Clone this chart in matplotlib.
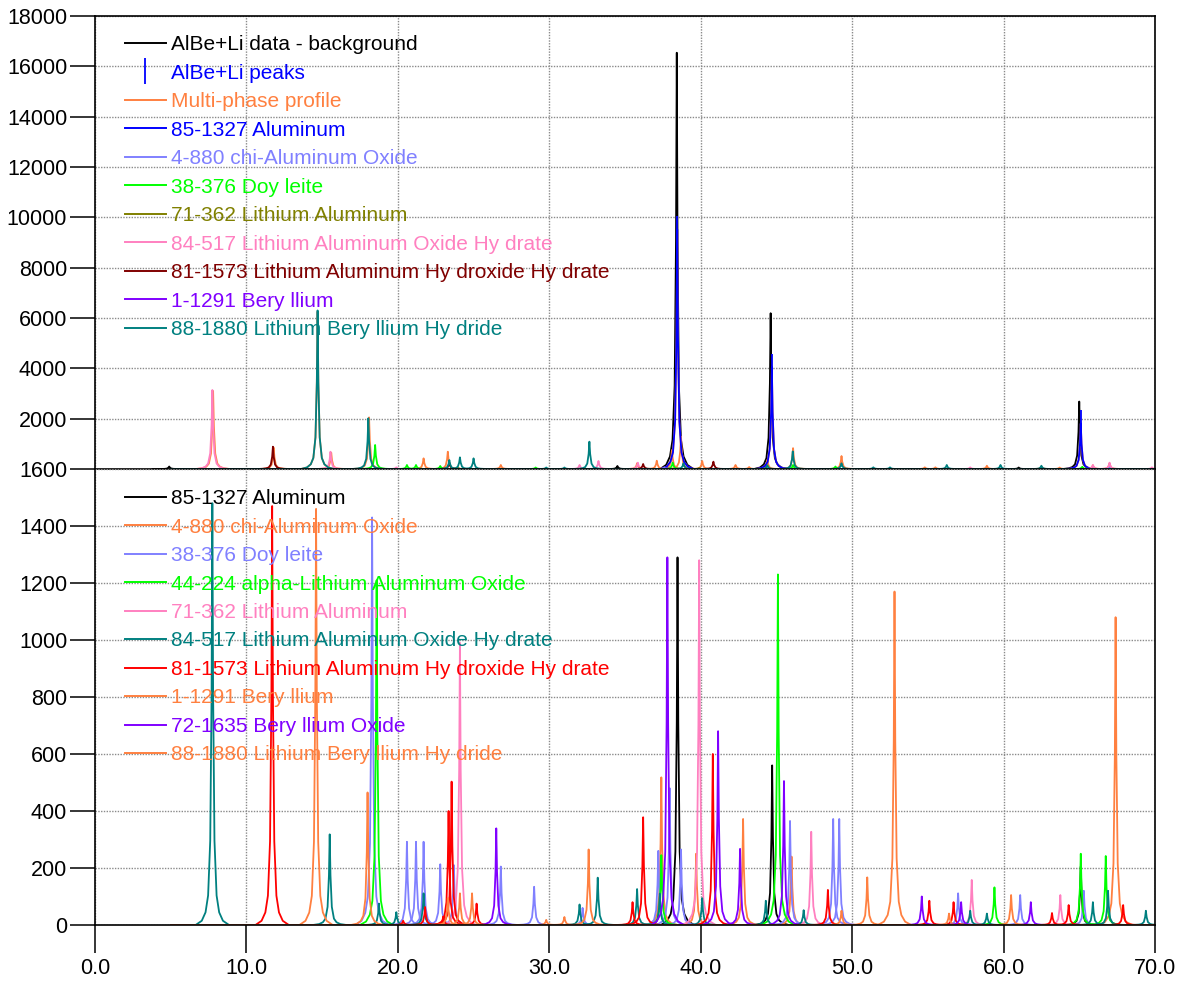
import numpy as np
import matplotlib.pyplot as plt
from matplotlib.ticker import FormatStrFormatter, MultipleLocator

plt.rcParams['font.family'] = ['Liberation Sans', 'DejaVu Sans']

# shape used to draw each reflection: offset (deg 2theta) and fraction of peak height
shape_dx = np.array([-1.1, -0.7, -0.45, -0.28, -0.14, -0.05, 0.0, 0.05, 0.14, 0.28, 0.45, 0.7, 1.1])
shape_rel = np.array([0, 0.01, 0.03, 0.07, 0.2, 0.55, 1, 0.55, 0.2, 0.07, 0.03, 0.01, 0])

# ---------------- top panel: measured pattern and fitted phases ----------------
data_pos = [4.9, 34.5, 38.42, 44.62, 61.0, 65.0]
data_int = [100, 120, 16540, 6190, 60, 2680]

peaks_pos = [38.45, 44.7, 65.1]
peaks_int = [9520, 4060, 1820]

multi_pos = [7.8, 11.8, 14.7, 15.6, 18.1, 21.7, 23.3, 26.8, 35.8, 37.1, 38.1, 38.45, 38.7, 40.1,
             42.3, 43.2, 44.4, 44.7, 46.1, 49.3, 54.8, 55.5, 58.9, 62.5, 63.7, 65.1, 65.9, 67.0]
multi_int = [3100, 850, 6250, 650, 2050, 424, 688, 160, 230, 330, 755, 9450, 1285, 318,
             160, 80, 357, 4000, 830, 516, 67, 67, 130, 100, 60, 1800, 150, 230]

al_top_pos = [38.45, 44.7, 65.1]
al_top_int = [9520, 4060, 1820]

chi_top_pos = [37.6, 45.9, 67.0]
chi_top_int = [60, 80, 60]

doy_top_pos = [18.5, 20.6, 21.2, 22.8, 29.1, 38.15, 46.1, 48.9, 65.2]
doy_top_int = [954, 160, 160, 120, 60, 252, 160, 100, 90]

lial_top_pos = [24.0, 39.9]
lial_top_int = [40, 40]

laoh_top_pos = [7.75, 15.55, 19.9, 32.0, 33.25, 35.85, 57.8, 65.9, 67.0, 69.8]
laoh_top_int = [3140, 688, 67, 160, 318, 252, 67, 160, 252, 67]

lahh_top_pos = [11.75, 23.4, 36.2, 40.84]
lahh_top_int = [887, 250, 199, 292]

be_top_pos = [37.8, 45.5]
be_top_int = [30, 30]

lbh_top_pos = [14.7, 18.05, 23.4, 24.1, 25.0, 29.8, 31.0, 32.65, 38.86, 44.4, 46.08, 49.3,
               51.4, 52.5, 56.25, 59.8, 62.5]
lbh_top_int = [6300, 2014, 357, 464, 424, 60, 60, 1086, 225, 150, 700, 225,
               67, 67, 160, 160, 130]

# ---------------- bottom panel: reference patterns ----------------
al_pos = [38.47, 44.72, 65.1]
al_int = [1290, 560, 205]

chi_pos = [37.4, 39.7, 42.8, 46.0, 67.4]
chi_int = [518, 250, 372, 240, 1080]

doy_pos = [18.3, 20.6, 21.2, 21.7, 22.8, 23.7, 26.8, 29.0, 32.2, 37.2, 37.95, 38.7, 45.9,
           48.75, 49.15, 57.0, 61.1, 65.3]
doy_int = [1430, 292, 292, 292, 213, 210, 205, 134, 60, 260, 480, 265, 365,
           372, 372, 111, 105, 120]

alo_pos = [18.6, 37.4, 45.1, 59.4, 65.1, 66.75]
alo_int = [1210, 245, 1230, 132, 250, 242]

lial_pos = [24.1, 39.9, 47.3, 57.9, 63.75]
lial_int = [990, 1280, 327, 158, 105]

laoh_pos = [7.75, 15.5, 18.75, 19.9, 21.7, 32.0, 33.2, 35.8, 37.3, 40.1, 44.3, 46.8,
            57.8, 58.9, 65.9, 66.9, 69.4]
laoh_int = [1480, 318, 75, 45, 111, 72, 166, 126, 110, 94, 85, 52,
            50, 40, 80, 120, 50]

lahh_pos = [11.7, 20.35, 21.8, 23.0, 23.35, 23.55, 25.2, 35.5, 36.2, 40.8, 48.4, 55.1,
            56.7, 63.2, 64.3, 67.9]
lahh_int = [1470, 15, 63, 30, 400, 503, 75, 80, 378, 600, 123, 85,
            80, 42, 70, 70]

be_pos = [51.0, 52.8, 56.4]
be_int = [167, 1170, 40]

beo_pos = [26.5, 37.8, 41.15, 42.6, 45.5, 54.6, 57.2, 61.8]
beo_int = [339, 1290, 680, 267, 505, 100, 80, 80]

lbh_pos = [14.6, 18.0, 23.3, 24.1, 24.9, 29.8, 31.0, 32.6, 49.3, 60.5]
lbh_int = [1460, 465, 94, 111, 111, 18, 28, 265, 50, 105]

BLACK = '#000000'
BLUE = '#0000FF'
ORANGE = '#FF8040'
LBLUE = '#8080FF'
GREEN = '#00FF00'
OLIVE = '#808000'
PINK = '#FF80C0'
DRED = '#800000'
PURPLE = '#8000FF'
TEAL = '#008080'
RED = '#FF0000'

top_series = [
    ('AlBe+Li data - background', BLACK, data_pos, data_int),
    ('Multi-phase profile', ORANGE, multi_pos, multi_int),
    ('85-1327 Aluminum', BLUE, al_top_pos, al_top_int),
    ('4-880 chi-Aluminum Oxide', LBLUE, chi_top_pos, chi_top_int),
    ('38-376 Doy leite', GREEN, doy_top_pos, doy_top_int),
    ('71-362 Lithium Aluminum', OLIVE, lial_top_pos, lial_top_int),
    ('84-517 Lithium Aluminum Oxide Hy drate', PINK, laoh_top_pos, laoh_top_int),
    ('81-1573 Lithium Aluminum Hy droxide Hy drate', DRED, lahh_top_pos, lahh_top_int),
    ('1-1291 Bery llium', PURPLE, be_top_pos, be_top_int),
    ('88-1880 Lithium Bery llium Hy dride', TEAL, lbh_top_pos, lbh_top_int),
]

bottom_series = [
    ('85-1327 Aluminum', BLACK, al_pos, al_int),
    ('4-880 chi-Aluminum Oxide', ORANGE, chi_pos, chi_int),
    ('38-376 Doy leite', LBLUE, doy_pos, doy_int),
    ('44-224 alpha-Lithium Aluminum Oxide', GREEN, alo_pos, alo_int),
    ('71-362 Lithium Aluminum', PINK, lial_pos, lial_int),
    ('84-517 Lithium Aluminum Oxide Hy drate', TEAL, laoh_pos, laoh_int),
    ('81-1573 Lithium Aluminum Hy droxide Hy drate', RED, lahh_pos, lahh_int),
    ('1-1291 Bery llium', ORANGE, be_pos, be_int),
    ('72-1635 Bery llium Oxide', PURPLE, beo_pos, beo_int),
    ('88-1880 Lithium Bery llium Hy dride', ORANGE, lbh_pos, lbh_int),
]


def draw_pattern(ax, pos, hgt, color, label):
    line, = ax.plot([5.0, 70.0], [0, 0], color=color, lw=1.4, label=label)
    for p, h in zip(pos, hgt):
        ax.plot(p + shape_dx, h * shape_rel, color=color, lw=1.3)
    return line


def style_axes(ax):
    for s in ax.spines.values():
        s.set_linewidth(1.2)
        s.set_color('black')
    ax.grid(True, color='#8a8a8a', linestyle=(0, (1, 1)), lw=1.0)
    ax.set_axisbelow(True)
    ax.tick_params(axis='y', direction='out', length=18, width=1.1, pad=2, labelsize=15.5)
    ax.set_xlim(0, 70)
    ax.xaxis.set_major_locator(MultipleLocator(10))


legend_style = dict(loc='upper left', borderaxespad=0, borderpad=0, frameon=False,
                    fontsize=15, handlelength=1.95, handletextpad=0.25,
                    labelspacing=0.455, labelcolor='linecolor')

fig = plt.figure(figsize=(11.83, 9.81), dpi=100)
ax_top = fig.add_axes([0.0803, 0.5219, 0.896, 0.4618])
ax_bot = fig.add_axes([0.0803, 0.0571, 0.896, 0.4648])
ax_bot.set_facecolor('none')

# top panel
handles = []
for i, (lab, col, pos, hgt) in enumerate(top_series):
    handles.append(draw_pattern(ax_top, pos, hgt, col, lab))
    if i == 0:
        pk, = ax_top.plot(peaks_pos, peaks_int, linestyle='none', marker='|',
                          markersize=19, markeredgewidth=1.3, color=BLUE, label='AlBe+Li peaks')
        handles.append(pk)

style_axes(ax_top)
ax_top.set_ylim(0, 18000)
ax_top.set_yticks(np.arange(2000, 18001, 2000))
ax_top.tick_params(axis='x', length=0, labelbottom=False)
ax_top.legend(handles=handles, bbox_to_anchor=(0.0283, 0.9576), **legend_style)

# bottom panel
for lab, col, pos, hgt in bottom_series:
    draw_pattern(ax_bot, pos, hgt, col, lab)

style_axes(ax_bot)
ax_bot.spines['top'].set_visible(False)
ax_bot.set_ylim(0, 1600)
ax_bot.yaxis.set_major_locator(MultipleLocator(200))
ax_bot.xaxis.set_major_formatter(FormatStrFormatter('%.1f'))
ax_bot.tick_params(axis='x', direction='out', length=20, width=1.1, pad=4, labelsize=15.5)
ax_bot.legend(bbox_to_anchor=(0.0283, 0.956), **legend_style)

fig.savefig('out.png', dpi=100)
